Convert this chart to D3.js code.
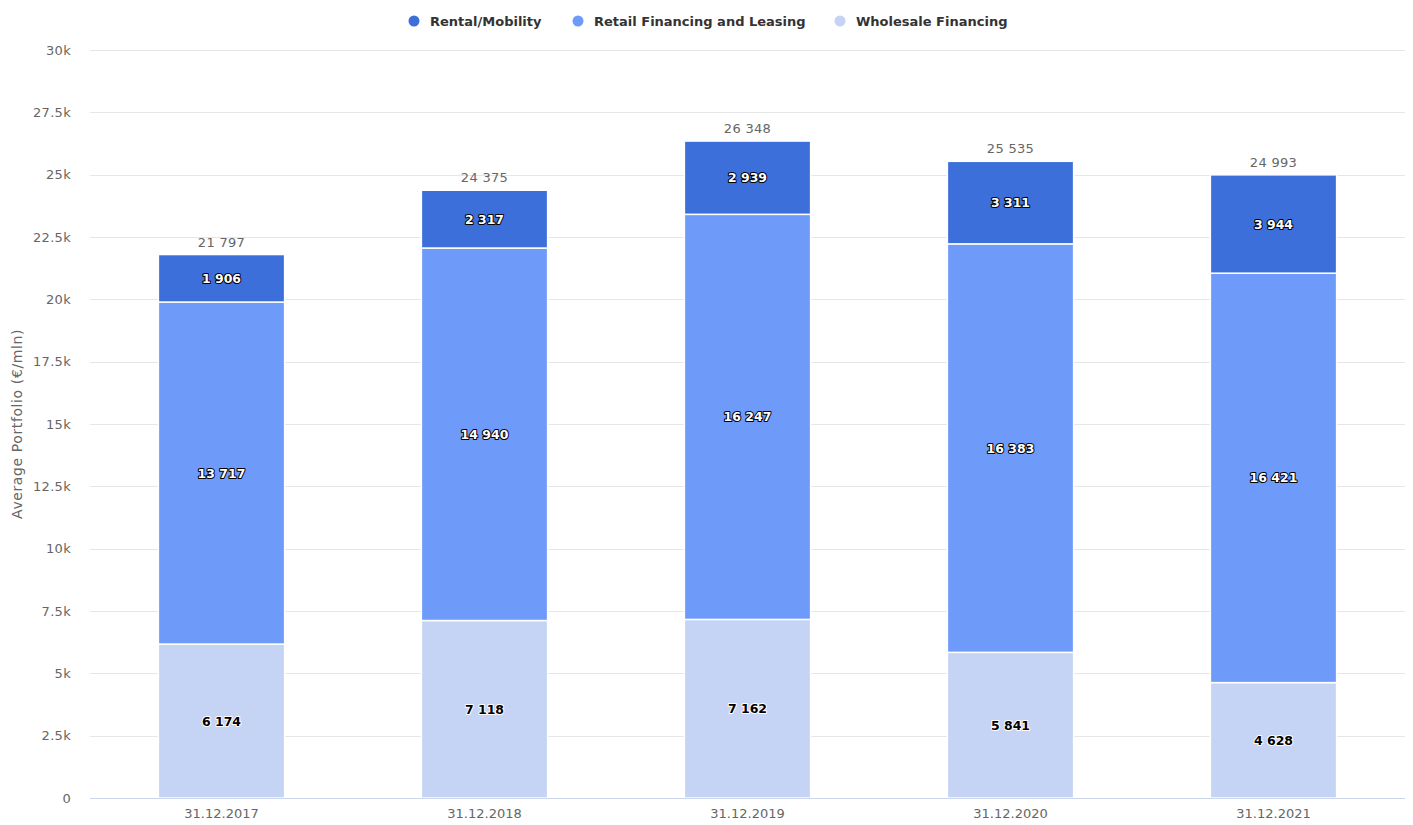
<!DOCTYPE html>
<html><head><meta charset="utf-8">
<script src="https://cdn.jsdelivr.net/npm/d3@7"></script>
<style>body{margin:0;background:#fff;font-family:"DejaVu Sans",sans-serif}</style>
</head><body><svg id="c" width="1413" height="825"></svg>
<script>
const categories = ["31.12.2017","31.12.2018","31.12.2019","31.12.2020","31.12.2021"];
const seriesNames = ["Rental/Mobility","Retail Financing and Leasing","Wholesale Financing"];
const rental = [1906, 2317, 2939, 3311, 3944];
const retail = [13717, 14940, 16247, 16383, 16421];
const wholesale = [6174, 7118, 7162, 5841, 4628];
const totals = [21797, 24375, 26348, 25535, 24993];
const yTicks = [0, 2500, 5000, 7500, 10000, 12500, 15000, 17500, 20000, 22500, 25000, 27500, 30000];
const yTickLabels = ["0","2.5k","5k","7.5k","10k","12.5k","15k","17.5k","20k","22.5k","25k","27.5k","30k"];
const colors = ["#3d6fdb", "#6e9afa", "#c5d4f4"];
const labelFill = ["#fff", "#fff", "#000"];
const labelStroke = ["#000", "#000", "#fff"];

const svg = d3.select("#c");
const m = {l: 90, r: 8, t: 50, b: 27};
const W = 1413, H = 825;
const x = d3.scaleBand().domain(categories).range([m.l, W - m.r]).paddingInner(0.52).paddingOuter(0.26);
const y = d3.scaleLinear().domain([0, 30000]).range([H - m.b, m.t]);
const fmt = v => d3.format(",")(v).replace(/,/g, " ");

// grid
svg.append("g").selectAll("line").data(yTicks).join("line")
  .attr("x1", m.l).attr("x2", W - m.r)
  .attr("y1", d => Math.round(y(d)) + 0.5).attr("y2", d => Math.round(y(d)) + 0.5)
  .attr("stroke", "#e6e6e6");
svg.append("g").selectAll("text").data(yTicks).join("text")
  .attr("x", m.l - 19).attr("y", d => y(d) + 4.5)
  .attr("text-anchor", "end").attr("fill", "#666").attr("font-size", 13).attr("letter-spacing", 0.3)
  .text((d, i) => yTickLabels[i]);

// y title
svg.append("text").attr("transform", `translate(22,${(m.t + H - m.b) / 2}) rotate(-90)`)
  .attr("text-anchor", "middle").attr("fill", "#666").attr("font-size", 14).attr("letter-spacing", 0.6)
  .text("Average Portfolio (€/mln)");

// stacks (bottom to top: wholesale, retail, rental)
const order = [2, 1, 0];
const data = [rental, retail, wholesale];
categories.forEach((c, i) => {
  let base = 0;
  order.forEach(k => {
    const v = data[k][i];
    const y0 = y(base), y1 = y(base + v);
    svg.append("rect").attr("x", x(c)).attr("y", y1).attr("width", x.bandwidth()).attr("height", y0 - y1)
      .attr("fill", colors[k]).attr("stroke", "#fff").attr("stroke-width", 1.5);
    base += v;
  });
});

// x axis line
svg.append("line").attr("x1", m.l).attr("x2", W - m.r).attr("y1", y(0) + 0.5).attr("y2", y(0) + 0.5)
  .attr("stroke", "#ccd6eb");
svg.append("g").selectAll("text").data(categories).join("text")
  .attr("x", d => x(d) + x.bandwidth() / 2).attr("y", H - 7)
  .attr("text-anchor", "middle").attr("fill", "#666").attr("font-size", 13).text(d => d);

// data labels
categories.forEach((c, i) => {
  let base = 0;
  order.forEach(k => {
    const v = data[k][i];
    const cy = (y(base) + y(base + v)) / 2;
    const cx = x(c) + x.bandwidth() / 2;
    svg.append("text").attr("x", cx).attr("y", cy + 4.5).attr("text-anchor", "middle")
      .attr("font-size", 12.5).attr("font-weight", "bold").attr("fill", labelFill[k])
      .attr("stroke", labelStroke[k]).attr("stroke-width", 2).attr("stroke-linejoin", "round")
      .attr("paint-order", "stroke").text(fmt(v));
    base += v;
  });
  svg.append("text").attr("x", x(c) + x.bandwidth() / 2).attr("y", y(totals[i]) - 8)
    .attr("text-anchor", "middle").attr("font-size", 13).attr("letter-spacing", 0.3).attr("fill", "#666").text(fmt(totals[i]));
});

// legend
const legX = [414, 578, 840];
seriesNames.forEach((n, i) => {
  svg.append("circle").attr("cx", legX[i]).attr("cy", 21).attr("r", 5.5).attr("fill", colors[i]);
  svg.append("text").attr("x", legX[i] + 16).attr("y", 26).attr("font-size", 13).attr("font-weight", "bold")
    .attr("fill", "#333").text(n);
});
</script></body></html>
